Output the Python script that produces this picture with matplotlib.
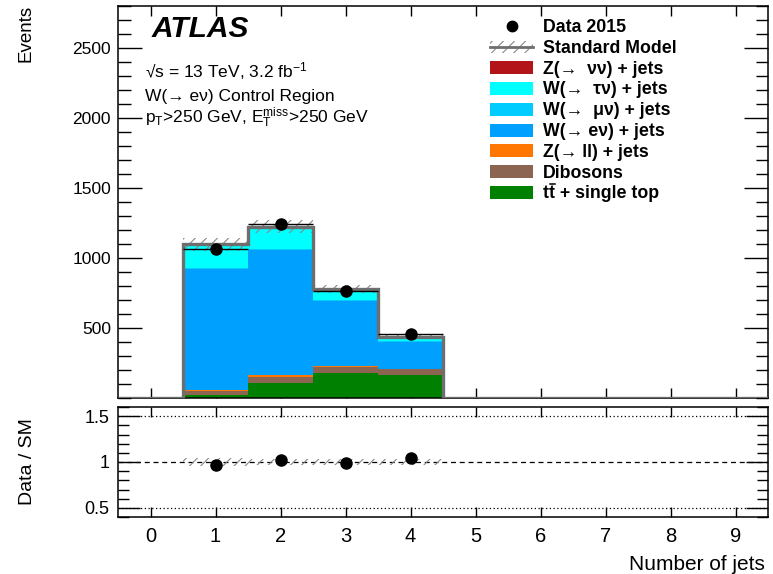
import numpy as np
import matplotlib
matplotlib.use("Agg")
import matplotlib.pyplot as plt
from matplotlib.patches import Rectangle
from matplotlib.lines import Line2D
from matplotlib.ticker import MultipleLocator, FixedLocator

plt.rcParams['font.family'] = ['Liberation Sans', 'DejaVu Sans']
plt.rcParams['mathtext.fontset'] = 'custom'
plt.rcParams['mathtext.rm'] = 'Liberation Sans'
plt.rcParams['mathtext.it'] = 'Liberation Sans:italic'
plt.rcParams['mathtext.bf'] = 'Liberation Sans:bold'
plt.rcParams['hatch.linewidth'] = 0.8

# ---------------- data ----------------
njets = [1, 2, 3, 4]
ttbar = [21, 110, 178, 164]
dibosons = [31, 42, 46, 41]
zll = [4, 10, 7, 1]
wenu = [866, 893, 464, 196]
wmunu = [8, 12, 8, 4]
wtaunu = [166, 154, 73, 30]
znunu = [1, 2, 1, 1]
sm_unc = [45, 45, 28, 15]
data = [1065, 1245, 766, 457]

labels = ["Z(→  νν) + jets", "W(→  τν) + jets", "W(→  μν) + jets",
          "W(→ eν) + jets", "Z(→ ll) + jets", "Dibosons",
          "tt + single top"]
colors = ["#b3141a", "#00ffff", "#00ccff", "#00a0ff", "#ff7700", "#8c6452", "#008000"]

W, H = 773, 574
fig = plt.figure(figsize=(W / 100, H / 100), dpi=100)

def fx(x):
    return x / W

def fy(y):
    return 1 - y / H

ax = fig.add_axes([fx(118), fy(398), fx(768) - fx(118), fy(6) - fy(398)])
rax = fig.add_axes([fx(118), fy(517), fx(768) - fx(118), fy(407) - fy(517)])

# stacked histogram (bottom -> top)
stack = [ttbar, dibosons, zll, wenu, wmunu, wtaunu, znunu]
stack_cols = colors[::-1]
bottom = np.zeros(len(njets))
for vals, c in zip(stack, stack_cols):
    v = np.array(vals, dtype=float)
    ax.bar(njets, v, width=1.0, bottom=bottom, color=c, linewidth=0, zorder=2)
    bottom = bottom + v
total = bottom
unc = np.array(sm_unc, dtype=float)

# uncertainty hatch
ax.bar(njets, 2 * unc, width=1.0, bottom=total - unc, fill=False, hatch='///',
       edgecolor='#888888', linewidth=0, zorder=3)

# total outline over full range
edges = np.arange(-0.5, 10.0, 1.0)
full = np.zeros(10)
full[np.array(njets)] = total
ax.stairs(full, edges, color='#6e6e6e', linewidth=2.4, zorder=4)

# data
d = np.array(data, dtype=float)
ax.errorbar(njets, d, xerr=0.5, yerr=np.sqrt(d), fmt='o', color='black',
            markersize=8, elinewidth=1.0, capsize=0, zorder=5)

ax.set_xlim(-0.5, 9.5)
ax.set_ylim(0, 2800)
ax.yaxis.set_major_locator(FixedLocator([500, 1000, 1500, 2000, 2500]))
ax.yaxis.set_minor_locator(MultipleLocator(100))
ax.xaxis.set_major_locator(MultipleLocator(1))
ax.tick_params(axis='x', which='major', direction='in', top=True, bottom=True,
               length=7, width=1, labelbottom=False)
ax.tick_params(axis='y', which='major', direction='in', left=True, right=True,
               length=17, width=1, labelsize=12.5, pad=5)
ax.tick_params(axis='y', which='minor', direction='in', left=True, right=True,
               length=9, width=1)
for s in ax.spines.values():
    s.set_linewidth(1.1)

# ratio
ratio = d / total
runc = unc / total
rax.bar(njets, 2 * runc, width=1.0, bottom=1 - runc, fill=False, hatch='///',
        edgecolor='#888888', linewidth=0, zorder=2)
rax.axhline(1.0, color='black', linestyle=(0, (4, 3)), linewidth=0.9, zorder=1)
rax.axhline(0.5, color='black', linestyle=(0, (1, 2)), linewidth=0.9, zorder=1)
rax.axhline(1.5, color='black', linestyle=(0, (1, 2)), linewidth=0.9, zorder=1)
rax.plot(njets, ratio, 'o', color='black', markersize=8, zorder=5)
rax.set_xlim(-0.5, 9.5)
rax.set_ylim(0.4, 1.6)
rax.xaxis.set_major_locator(MultipleLocator(1))
rax.yaxis.set_major_locator(FixedLocator([0.5, 1.0, 1.5]))
rax.yaxis.set_minor_locator(MultipleLocator(0.1))
rax.set_yticklabels(["0.5", "1", "1.5"])
rax.tick_params(axis='x', which='major', direction='in', top=True, bottom=True,
                length=7, width=1, labelsize=14.5, pad=7)
rax.tick_params(axis='y', which='major', direction='in', left=True, right=True,
                length=16, width=1, labelsize=13, pad=6)
rax.tick_params(axis='y', which='minor', direction='in', left=True, right=True,
                length=8, width=1)
for s in rax.spines.values():
    s.set_linewidth(1.1)

# axis titles
fig.text(fx(765), fy(570), "Number of jets", ha='right', va='baseline', fontsize=15)
fig.text(fx(26), fy(5), "Events", rotation=90, ha='center', va='top', fontsize=13.5)
fig.text(fx(27), fy(462), "Data / SM", rotation=90, ha='center', va='center', fontsize=14)

# ATLAS labels
fig.text(fx(152), fy(37), "ATLAS", fontsize=21.5, fontweight='bold', fontstyle='italic',
         va='baseline', ha='left')
fig.text(fx(145), fy(77), "√s = 13 TeV, 3.2 fb$^{-1}$", fontsize=12.5, va='baseline')
fig.text(fx(145), fy(101), "W(→ eν) Control Region", fontsize=12.5, va='baseline')
fig.text(fx(145), fy(123), r"p$_{\mathrm{T}}$>250 GeV, E$_{\mathrm{T}}^{\mathrm{miss}}$>250 GeV",
         fontsize=12.5, va='baseline')

# legend (manual)
LFS = 12.8
rows = [26 + 20.8 * i for i in range(9)]
bx0, bx1 = 490, 533
tx = 543
fig.add_artist(Line2D([fx((bx0 + bx1) / 2)], [fy(rows[0])], marker='o', color='black',
                      markersize=7.5, linestyle='none'))
fig.text(fx(tx), fy(rows[0] + 6), "Data 2015", fontsize=LFS, fontweight='bold', va='baseline')
fig.add_artist(Rectangle((fx(bx0), fy(rows[1] + 6)), fx(bx1) - fx(bx0), fy(rows[1] - 6) - fy(rows[1] + 6),
                         fill=False, hatch='///', edgecolor='#888888', linewidth=0,
                         transform=fig.transFigure))
fig.add_artist(Line2D([fx(bx0), fx(bx1)], [fy(rows[1]), fy(rows[1])], color='#6e6e6e', linewidth=2.0))
fig.text(fx(tx), fy(rows[1] + 6), "Standard Model", fontsize=LFS, fontweight='bold', va='baseline')
for i, (lab, c) in enumerate(zip(labels, colors)):
    r = rows[i + 2]
    fig.add_artist(Rectangle((fx(bx0), fy(r + 6.5)), fx(bx1) - fx(bx0), fy(r - 6.5) - fy(r + 6.5),
                             facecolor=c, edgecolor='none', transform=fig.transFigure))
    fig.text(fx(tx), fy(r + 6), lab, fontsize=LFS, fontweight='bold', va='baseline')

# bar over the second "t" of "tt"
renderer = fig.canvas.get_renderer()
probe1 = fig.text(0, 0, "t", fontsize=LFS, fontweight='bold')
probe2 = fig.text(0, 0, "tt", fontsize=LFS, fontweight='bold')
w1 = probe1.get_window_extent(renderer).width
w2 = probe2.get_window_extent(renderer).width
probe1.remove()
probe2.remove()
rb = rows[8] + 6
fig.add_artist(Line2D([fx(tx + w2 - w1 + 0.8), fx(tx + w2 - 0.3)], [fy(rb - 14), fy(rb - 14)],
                      color='black', linewidth=1.1))

fig.savefig("out.png", dpi=100)
